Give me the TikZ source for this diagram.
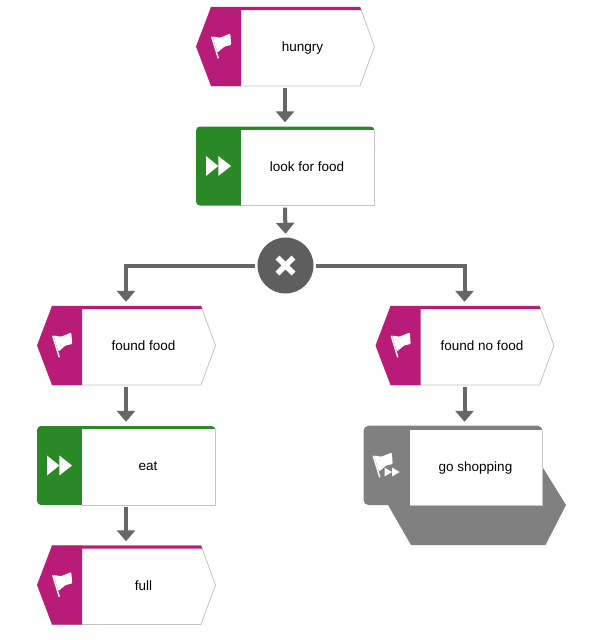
\documentclass[tikz,border=0pt]{standalone}
\usepackage{fontspec}
\setmainfont{Liberation Sans}
\usetikzlibrary{arrows.meta}

\definecolor{eventcol}{HTML}{B91C78}
\definecolor{funccol}{HTML}{2B8827}
\definecolor{linecol}{HTML}{666666}
\definecolor{gatecol}{HTML}{5E5E5E}
\definecolor{groupcol}{HTML}{808080}
\definecolor{edgecol}{HTML}{C4C4C4}

\tikzset{
    anchorbox/.style={minimum width=178pt, minimum height=80pt, inner sep=0pt},
    label/.style={font=\fontsize{13.5}{16}\selectfont, text=black, inner sep=0pt, anchor=base},
    flow/.style={draw=linecol, line width=4pt, -{Triangle[length=11pt,width=18pt]}},
}

% flag icon, (#1,#2) = left tip of the box
\newcommand{\flagicon}[2]{
    \begin{scope}[shift={(#1,#2)}]
        \fill[white, rounded corners=1pt] (16.5,-10) -- (24,-8.8) -- (34.3,-13) -- (35.2,-1.5) -- (28.5,0) -- (21.5,6) -- cycle;
        \draw[white, line width=1.4pt] (15.7,-9.8) -- (22.3,11.8);
    \end{scope}
}
% event: (#1,#2) = left tip, #3 = name, #4 = text
\newcommand{\eventbox}[4]{
    \node[anchorbox] (#3) at (#1+89,#2) {};
    \draw[edgecol, fill=white, line width=0.8pt] (#1+15,#2-39.5) -- (#1+164,#2-39.5) -- (#1+178.5,#2) -- (#1+164,#2+39.5) -- (#1+15,#2+39.5) -- cycle;
    \fill[eventcol] (#1,#2) -- (#1+15,#2-39.5) -- (#1+45,#2-39.5) -- (#1+45,#2+39.5) -- (#1+15,#2+39.5) -- cycle;
    \fill[eventcol] (#1+15,#2-39.5) -- (#1+164,#2-39.5) -- (#1+165.2,#2-36.4) -- (#1+15,#2-36.4) -- cycle;
    \flagicon{#1}{#2}
    \node[label] (#3text) at (#1+106.5,#2+5.1) {#4};
}
% function: (#1,#2) = middle of the left side, #3 = name, #4 = text
\newcommand{\funcbox}[4]{
    \node[anchorbox] (#3) at (#1+89,#2) {};
    \fill[funccol, rounded corners=4pt] (#1,#2-39.5) rectangle (#1+178.5,#2+39.5);
    \fill[white] (#1+45,#2-36.4) rectangle (#1+178.5,#2+39.5);
    \draw[edgecol, line width=0.8pt] (#1+178.5,#2-36.4) -- (#1+178.5,#2+39.5) -- (#1+45,#2+39.5);
    \fill[white] (#1+10,#2-10) -- (#1+22.3,#2) -- (#1+10,#2+10) -- cycle;
    \fill[white] (#1+22.3,#2-10) -- (#1+35,#2) -- (#1+22.3,#2+10) -- cycle;
    \node[label] (#3text) at (#1+111,#2+5.1) {#4};
}

\begin{document}
\begin{tikzpicture}[x=1pt, y=-1pt]
    \useasboundingbox (0,0) rectangle (592,640);

    \eventbox{196}{46.5}{hungry}{hungry}
    \funcbox{196}{166}{look}{look for food}
    \eventbox{37}{345.5}{foundfood}{found food}
    \eventbox{375.5}{345.5}{foundnofood}{found no food}
    \funcbox{37}{465.5}{eat}{eat}
    \eventbox{37}{585}{full}{full}

    % grey process group
    \node[anchorbox, minimum width=203pt] (shopping) at (464.5,465.5) {};
    \fill[groupcol] (388,467) -- (542.5,467) -- (566,505) -- (545.5,545) -- (411,545) -- (388,505) -- cycle;
    \fill[groupcol, rounded corners=5pt] (363.5,425.7) rectangle (542.5,505);
    \fill[white] (409.5,430) rectangle (542,505);
    \draw[edgecol, line width=0.8pt] (542,430) -- (542,505) -- (409.5,505);
    \node[label] (shoppingtext) at (475.5,471.2) {go shopping};
    \flagicon{357.5}{465.5}
    \fill[white] (384.5,467.5) -- (392,472) -- (384.5,476.5) -- cycle;
    \fill[white] (392,467.5) -- (399.7,472) -- (392,476.5) -- cycle;

    % xor
    \node[circle, fill=gatecol, minimum size=56pt, inner sep=0pt] (gate) at (285.5,265.5) {};
    \draw[white, line width=5.5pt] (277.5,257.5) -- (293.5,273.5) (277.5,273.5) -- (293.5,257.5);

    \path[flow] ([yshift=-1.5pt]hungry.south) -- ([yshift=3.5pt]look.north);
    \path[flow] ([yshift=-1.5pt]look.south) -- ([yshift=3.5pt]gate.north);
    \path[flow] ([xshift=-2pt]gate.west) -| ([yshift=3.5pt]foundfood.north);
    \path[flow] ([xshift=2pt]gate.east) -| ([yshift=3.5pt]foundnofood.north);
    \path[flow] ([yshift=-1.5pt]foundfood.south) -- ([yshift=3.5pt]eat.north);
    \path[flow] ([yshift=-1.5pt]foundnofood.south) -- ([yshift=3.5pt]shopping.north);
    \path[flow] ([yshift=-1.5pt]eat.south) -- ([yshift=3.5pt]full.north);
\end{tikzpicture}
\end{document}
